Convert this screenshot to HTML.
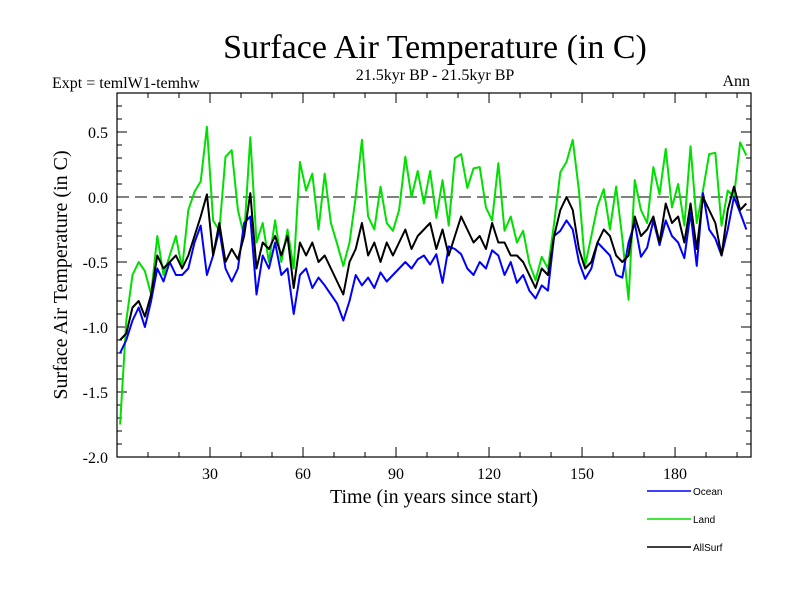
<!DOCTYPE html>
<html><head><meta charset="utf-8"><style>
body{margin:0;background:#fff;}
svg{display:block;font-family:"Liberation Serif",serif;}
</style></head><body>
<svg id="chart" width="800" height="600">
<text x="435" y="58" font-size="34" text-anchor="middle">Surface Air Temperature (in C)</text>
<text x="435" y="80" font-size="16" text-anchor="middle">21.5kyr BP - 21.5kyr BP</text>
<text x="52" y="88" font-size="16">Expt = temlW1-temhw</text>
<text x="750" y="86" font-size="16" text-anchor="end">Ann</text>
<text x="434" y="503" font-size="20" text-anchor="middle">Time (in years since start)</text>
<text transform="translate(67,275) rotate(-90)" font-size="20" text-anchor="middle">Surface Air Temperature (in C)</text>
<g id="axes"></g>
<g id="series"></g>
<g id="legend" font-family="Liberation Sans, sans-serif" font-size="10"></g>
</svg>
<script>
const years=[];for(let y=1;y<=203;y+=2)years.push(y);
const ocean=[-1.2,-1.1,-0.95,-0.85,-1.0,-0.8,-0.55,-0.65,-0.5,-0.6,
-0.6,-0.55,-0.35,-0.22,-0.6,-0.45,-0.25,-0.55,-0.65,-0.55,
-0.2,-0.15,-0.75,-0.45,-0.55,-0.35,-0.6,-0.55,-0.9,-0.6,
-0.55,-0.7,-0.62,-0.68,-0.75,-0.82,-0.95,-0.8,-0.6,-0.68,
-0.62,-0.7,-0.58,-0.65,-0.6,-0.55,-0.5,-0.55,-0.48,-0.45,
-0.52,-0.44,-0.66,-0.38,-0.4,-0.44,-0.55,-0.6,-0.5,-0.55,
-0.41,-0.45,-0.6,-0.5,-0.66,-0.6,-0.72,-0.78,-0.68,-0.72,
-0.3,-0.26,-0.18,-0.25,-0.5,-0.63,-0.55,-0.35,-0.4,-0.45,
-0.6,-0.62,-0.35,-0.2,-0.46,-0.39,-0.18,-0.37,-0.18,-0.3,
-0.35,-0.47,-0.12,-0.53,0.03,-0.25,-0.32,-0.45,-0.25,0.0,
-0.12,-0.25];
const land=[-1.75,-0.95,-0.6,-0.5,-0.57,-0.75,-0.3,-0.6,-0.45,-0.3,
-0.55,-0.1,0.04,0.12,0.54,-0.18,-0.26,0.31,0.36,-0.1,
-0.3,0.46,-0.35,-0.2,-0.5,-0.18,-0.5,-0.25,-0.55,0.27,
0.05,0.18,-0.25,0.18,-0.2,-0.36,-0.53,-0.35,0.0,0.44,
-0.15,-0.25,0.08,-0.2,-0.26,-0.1,0.31,0.0,0.2,-0.05,
0.2,-0.16,0.13,-0.22,0.3,0.33,0.07,0.22,0.23,-0.08,
-0.18,0.26,-0.26,-0.15,-0.35,-0.26,-0.51,-0.64,-0.46,-0.55,
-0.2,0.19,0.27,0.44,0.05,-0.53,-0.3,-0.07,0.06,-0.25,
0.08,-0.32,-0.79,0.13,-0.1,-0.2,0.23,0.02,0.37,-0.08,
0.1,-0.22,0.39,-0.2,0.05,0.33,0.34,-0.22,0.05,0.0,
0.42,0.32];
const allsurf=[-1.1,-1.05,-0.85,-0.8,-0.92,-0.75,-0.45,-0.55,-0.5,-0.45,
-0.55,-0.45,-0.3,-0.15,0.02,-0.45,-0.2,-0.5,-0.4,-0.48,
-0.3,0.03,-0.55,-0.35,-0.4,-0.3,-0.45,-0.3,-0.7,-0.35,
-0.45,-0.35,-0.5,-0.45,-0.55,-0.65,-0.75,-0.5,-0.4,-0.2,
-0.45,-0.35,-0.5,-0.35,-0.45,-0.35,-0.25,-0.4,-0.3,-0.25,
-0.2,-0.4,-0.25,-0.45,-0.3,-0.15,-0.25,-0.35,-0.3,-0.4,
-0.2,-0.35,-0.35,-0.45,-0.45,-0.5,-0.6,-0.7,-0.55,-0.6,
-0.3,-0.1,0.0,-0.1,-0.4,-0.55,-0.5,-0.35,-0.25,-0.3,
-0.45,-0.5,-0.45,-0.15,-0.3,-0.25,-0.15,-0.35,-0.05,-0.2,
-0.15,-0.35,-0.05,-0.4,0.0,-0.1,-0.2,-0.45,-0.1,0.08,
-0.1,-0.05];
const xTicks=[30,60,90,120,150,180];
const yTicks=[0.5,0.0,-0.5,-1.0,-1.5,-2.0];
const yTickLabels=["0.5","0.0","-0.5","-1.0","-1.5","-2.0"];

const L=117,R=751,T=93,B=457,X0=0,X1=204.5,Y0=-2.0,Y1=0.8;
const sx=v=>L+(v-X0)/(X1-X0)*(R-L);
const sy=v=>B-(v-Y0)/(Y1-Y0)*(B-T);
const NS="http://www.w3.org/2000/svg";
function mk(tag,attrs,parent){const e=document.createElementNS(NS,tag);for(const k in attrs)e.setAttribute(k,attrs[k]);parent.appendChild(e);return e;}
const axes=document.getElementById('axes');
let f=mk('rect',{x:L,y:T,width:R-L,height:B-T,fill:'none',stroke:'#000','stroke-width':1.2},axes);


let z=mk('line',{x1:L,x2:R,y1:sy(0),y2:sy(0),stroke:'#000','stroke-dasharray':'12,6','stroke-width':1},axes);


// minor x ticks
for(let v=10;v<=200;v+=10){const major=v%30===0;const len=major?10:5;
mk('line',{x1:sx(v),x2:sx(v),y1:B,y2:B-len,stroke:'#000'},axes);
mk('line',{x1:sx(v),x2:sx(v),y1:T,y2:T+len,stroke:'#000'},axes);}
for(let i=-20;i<=8;i++){const v=i/10;const major=i%5===0;const len=major?10:5;
mk('line',{x1:L,x2:L+len,y1:sy(v),y2:sy(v),stroke:'#000'},axes);
mk('line',{x1:R,x2:R-len,y1:sy(v),y2:sy(v),stroke:'#000'},axes);}
xTicks.forEach(v=>{const t=mk('text',{x:sx(v),y:B+22,'font-size':16,'text-anchor':'middle'},axes);t.textContent=v;

});
yTicks.forEach((v,i)=>{const t=mk('text',{x:108,y:sy(v)+6,'font-size':16,'text-anchor':'end'},axes);t.textContent=yTickLabels[i];

});
const ser=document.getElementById('series');
const defs=[[land,'#00e000','land-line'],[ocean,'#0000ff','ocean-line'],[allsurf,'#000000','allsurf-line']];
defs.forEach(([d,c,n])=>{const p=mk('polyline',{points:years.map((y,i)=>sx(y)+','+sy(d[i])).join(' '),fill:'none',stroke:c,'stroke-width':2,'stroke-linejoin':'round'},ser);

});
const lg=document.getElementById('legend');
[['Ocean','#0000ff',491],['Land','#00e000',519],['AllSurf','#000000',547]].forEach(([n,c,y])=>{
const l=mk('line',{x1:647,x2:691,y1:y,y2:y,stroke:c,'stroke-width':1.5},lg);


const t=mk('text',{x:693,y:y+4},lg);t.textContent=n;

});
</script>
</body></html>
